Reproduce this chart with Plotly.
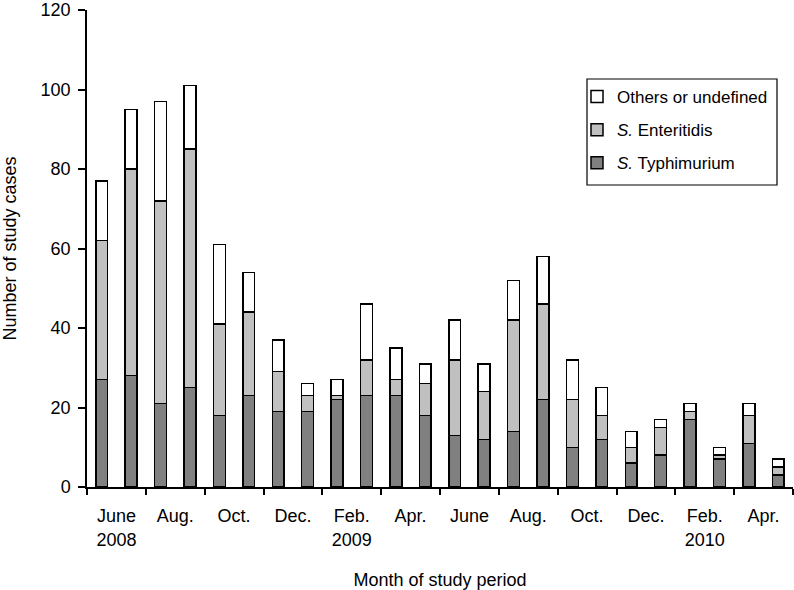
import numpy as np
import plotly.graph_objects as go

months = ["2008-06", "2008-07", "2008-08", "2008-09", "2008-10", "2008-11", "2008-12",
          "2009-01", "2009-02", "2009-03", "2009-04", "2009-05", "2009-06", "2009-07",
          "2009-08", "2009-09", "2009-10", "2009-11", "2009-12", "2010-01", "2010-02",
          "2010-03", "2010-04", "2010-05"]
# cumulative tops
total = [77, 95, 97, 101, 61, 54, 37, 26, 27, 46, 35, 31, 42, 31, 52, 58, 32, 25, 14, 17, 21, 10, 21, 7]
typhi_plus_ent = [62, 80, 72, 85, 41, 44, 29, 23, 23, 32, 27, 26, 32, 24, 42, 46, 22, 18, 10, 15, 19, 8, 18, 5]
typhimurium = [27, 28, 21, 25, 18, 23, 19, 19, 22, 23, 23, 18, 13, 12, 14, 22, 10, 12, 6, 8, 17, 7, 11, 3]

enteritidis = [a - b for a, b in zip(typhi_plus_ent, typhimurium)]
others = [a - b for a, b in zip(total, typhi_plus_ent)]

tick_labels = ["June<br>2008", "Aug.", "Oct.", "Dec.", "Feb.<br>2009", "Apr.",
               "June", "Aug.", "Oct.", "Dec.", "Feb.<br>2010", "Apr."]
y_ticks = [0, 20, 40, 60, 80, 100, 120]

x = np.arange(len(months))
FONT = "Liberation Sans, Arial, Helvetica, sans-serif"

fig = go.Figure()
series = [
    ("<i>S.</i> Typhimurium", typhimurium, "#808080", 3),
    ("<i>S.</i> Enteritidis", enteritidis, "#c0c0c0", 2),
    ("Others or undefined", others, "#ffffff", 1),
]
for i, (name, vals, col, rank) in enumerate(series):
    fig.add_trace(go.Bar(
        x=x, y=vals, name=name, legendgroup=f"g{i}", legendrank=rank,
        marker=dict(color=col, line=dict(color="black", width=1.5)),
        customdata=months,
    ))

# plot area in page pixels: left 87, right 793, top 10, bottom 487
PW, PH = 706, 477
# legend frame (drawn as a shape so its size matches the original)
fig.add_shape(type="rect", xref="paper", yref="paper",
              x0=(587 - 87) / PW, x1=(777 - 87) / PW,
              y0=(487 - 185) / PH, y1=(487 - 79) / PH,
              line=dict(color="black", width=1.2), fillcolor="rgba(0,0,0,0)",
              layer="above")

fig.update_layout(
    barmode="stack",
    bargap=0.6,
    width=794, height=590,
    margin=dict(l=87, r=1, t=10, b=103),
    paper_bgcolor="white", plot_bgcolor="white",
    font=dict(family=FONT, size=18, color="black"),
    showlegend=True,
    legend=dict(
        x=(577 - 87) / PW, y=(487 - 79) / PH, xanchor="left", yanchor="top",
        traceorder="grouped", tracegroupgap=8,
        borderwidth=0, bgcolor="rgba(0,0,0,0)",
        font=dict(family=FONT, size=17, color="black"),
    ),
    xaxis=dict(
        range=[-0.5, 23.5],
        automargin=False,
        tickmode="array",
        tickvals=[0.5 + 2 * k for k in range(len(tick_labels))],
        ticktext=tick_labels,
        ticks="",
        ticklabelstandoff=12,
        showgrid=False, zeroline=False,
        showline=True, linecolor="black", linewidth=1.5,
        minor=dict(ticks="outside", tick0=-0.5, dtick=2, ticklen=6,
                   tickcolor="black", tickwidth=1.5, showgrid=False),
        title=dict(text="Month of study period", font=dict(size=18), standoff=25),
        tickfont=dict(size=18),
    ),
    yaxis=dict(
        range=[0, 120],
        automargin=False,
        tickmode="array", tickvals=y_ticks,
        ticks="outside", ticklen=7, tickcolor="black", tickwidth=1.5,
        ticklabelstandoff=4,
        showgrid=False, zeroline=False,
        showline=True, linecolor="black", linewidth=1.5,
        title=dict(text="Number of study cases", font=dict(size=18), standoff=24),
        tickfont=dict(size=18),
    ),
)

# remove the default 8px page margin so the figure fills the window exactly
fig.write_html("out.html",
               config={"displayModeBar": False},
               post_script="document.body.style.margin='0';document.body.style.overflow='hidden';")
